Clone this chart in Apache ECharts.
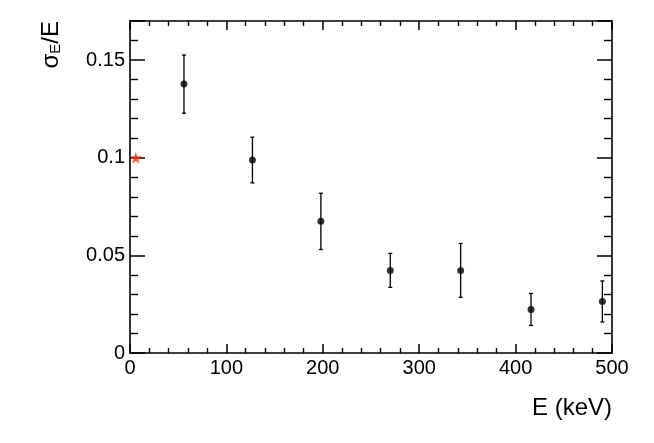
<!DOCTYPE html>
<html>
<head>
<meta charset="utf-8">
<script src="https://cdn.jsdelivr.net/npm/echarts@6/dist/echarts.min.js"></script>
<style>html,body{margin:0;padding:0;background:#fff;}#chart{width:654px;height:443px;}</style>
</head>
<body>
<div id="chart"></div>
<script>
// ---- data ----
var energies = [56, 127, 198, 270, 343, 416, 490];          // E (keV)
var resolution = [0.1377, 0.0988, 0.0674, 0.0423, 0.0423, 0.0223, 0.0264]; // sigma_E / E
var resolutionErr = [0.0149, 0.0117, 0.0144, 0.0087, 0.0138, 0.0082, 0.0105];
var refEnergy = [6];
var refResolution = [0.1];
var xTicks = [0, 100, 200, 300, 400, 500];
var yTicks = [0, 0.05, 0.1, 0.15];

var FONT = '"Liberation Sans", Arial, Helvetica, sans-serif';

var pts = energies.map(function (e, i) { return [e, resolution[i]]; });
var errPts = energies.map(function (e, i) { return [e, resolution[i], resolutionErr[i]]; });
var refPts = refEnergy.map(function (e, i) { return [e, refResolution[i]]; });

function axisX(pos, show) {
  return {
    type: 'value', position: pos, min: xTicks[0], max: xTicks[xTicks.length - 1],
    interval: xTicks[1] - xTicks[0],
    axisLine: { show: true, onZero: false, lineStyle: { color: '#000', width: 1.6 } },
    axisTick: { show: true, inside: true, length: 9, lineStyle: { color: '#000', width: 1.5 } },
    minorTick: { show: true, splitNumber: 5, length: 5, lineStyle: { color: '#000', width: 1.4 } },
    splitLine: { show: false },
    axisLabel: { show: show, color: '#000', fontSize: 20, fontFamily: FONT, margin: 5 }
  };
}
function axisY(pos, show) {
  return {
    type: 'value', position: pos, min: 0, max: 0.17,
    interval: yTicks[1] - yTicks[0],
    axisLine: { show: true, onZero: false, lineStyle: { color: '#000', width: 1.6 } },
    axisTick: { show: true, inside: true, length: 15, lineStyle: { color: '#000', width: 1.5 } },
    minorTick: { show: true, splitNumber: 5, length: 8, lineStyle: { color: '#000', width: 1.4 } },
    splitLine: { show: false },
    axisLabel: { show: show, color: '#000', fontSize: 20, fontFamily: FONT, margin: 5,
      showMaxLabel: false,
      formatter: function (v) { return String(+v.toFixed(3)); } }
  };
}

var xa = axisX('bottom', true);
xa.name = 'E (keV)';
xa.nameLocation = 'end';
xa.nameGap = 0;
xa.nameMoveOverlap = false;
xa.nameTextStyle = { color: '#000', fontSize: 24, fontFamily: FONT, align: 'right', verticalAlign: 'top', padding: [43, 0, 0, 0] };

var ya = axisY('left', true);
ya.name = '{a|σ}{b|E}{a|/E}';
ya.nameLocation = 'end';
ya.nameGap = 0;
ya.nameRotate = 90;
ya.nameMoveOverlap = false;
ya.nameTextStyle = {
  color: '#000', fontFamily: FONT, align: 'right', verticalAlign: 'bottom', padding: [0, 0, 67, 0],
  rich: {
    a: { fontSize: 24, fontFamily: FONT, color: '#000', verticalAlign: 'bottom' },
    b: { fontSize: 15, fontFamily: FONT, color: '#000', verticalAlign: 'bottom' }
  }
};

var option = {
  animation: false,
  backgroundColor: '#fff',
  grid: { left: 130, right: 42, top: 21, bottom: 90, containLabel: false },
  xAxis: [xa, axisX('top', false)],
  yAxis: [ya, axisY('right', false)],
  series: [
    {
      type: 'custom', xAxisIndex: 0, yAxisIndex: 0, data: errPts, z: 2,
      renderItem: function (params, api) {
        var x = api.value(0), y = api.value(1), e = api.value(2);
        var t = api.coord([x, y + e]), b = api.coord([x, y - e]);
        var c = 2;
        var st = { stroke: '#000', lineWidth: 1.3 };
        return { type: 'group', children: [
          { type: 'line', shape: { x1: t[0], y1: t[1], x2: b[0], y2: b[1] }, style: st },
          { type: 'line', shape: { x1: t[0] - c, y1: t[1], x2: t[0] + c, y2: t[1] }, style: st },
          { type: 'line', shape: { x1: b[0] - c, y1: b[1], x2: b[0] + c, y2: b[1] }, style: st }
        ] };
      }
    },
    {
      type: 'scatter', xAxisIndex: 0, yAxisIndex: 0, data: pts, z: 3,
      symbol: 'circle', symbolSize: 7, itemStyle: { color: '#000' }
    },
    {
      type: 'scatter', xAxisIndex: 0, yAxisIndex: 0, data: refPts, z: 4,
      symbol: 'path://M50,0 L61,35 L98,35 L68,57 L79,91 L50,70 L21,91 L32,57 L2,35 L39,35 Z',
      symbolSize: 12, itemStyle: { color: '#ff2a0a' }
    }
  ]
};
var chart = echarts.init(document.getElementById('chart'), null, { renderer: 'canvas' });
chart.setOption(option);
</script>
</body>
</html>
